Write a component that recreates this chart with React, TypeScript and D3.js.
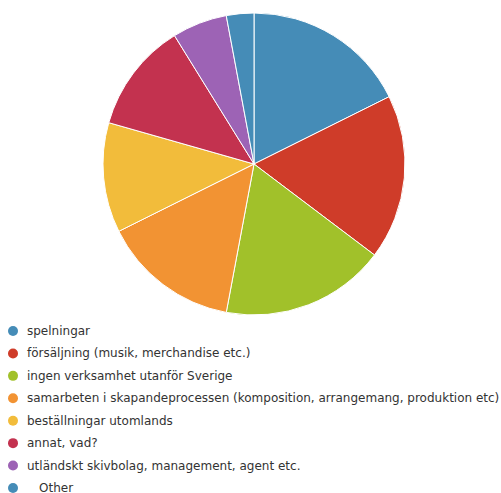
import React from "react";
import * as d3 from "d3";

const categories = [
  "spelningar",
  "försäljning (musik, merchandise etc.)",
  "ingen verksamhet utanför Sverige",
  "samarbeten i skapandeprocessen (komposition, arrangemang, produktion etc)",
  "beställningar utomlands",
  "annat, vad?",
  "utländskt skivbolag, management, agent etc.",
  "Other",
];
const values = [6, 6, 6, 5, 4, 4, 2, 1];
const colors = ["#458cb7", "#cf3c29", "#a1c12a", "#f29333", "#f2bc3b", "#c3324f", "#9d63b5", "#458cb7"];

const W = 501, H = 493;
const cx = 254, cy = 164, R = 151;

export default function App() {
  const pie = d3.pie<number>().sort(null).value((d) => d)(values);
  const arc = d3.arc<d3.PieArcDatum<number>>().innerRadius(0).outerRadius(R);
  const legendY = d3.scalePoint<number>().domain(d3.range(categories.length)).range([331, 488]);
  return (
    <svg width={W} height={H} style={{ position: "absolute", left: 0, top: 0 }}>
      <g transform={`translate(${cx},${cy})`}>
        {pie.map((p, i) => (
          <path key={i} d={arc(p) || ""} fill={colors[i]} stroke="#fff" strokeWidth={1} />
        ))}
      </g>
      <g fontFamily="DejaVu Sans, sans-serif" fontSize={12} fill="#333">
        {categories.map((c, i) => (
          <g key={i} transform={`translate(0,${legendY(i)})`}>
            <circle cx={13} cy={0} r={5} fill={colors[i]} />
            <text x={c === "Other" ? 39 : 27} y={0} dy="0.33em">{c}</text>
          </g>
        ))}
      </g>
    </svg>
  );
}
